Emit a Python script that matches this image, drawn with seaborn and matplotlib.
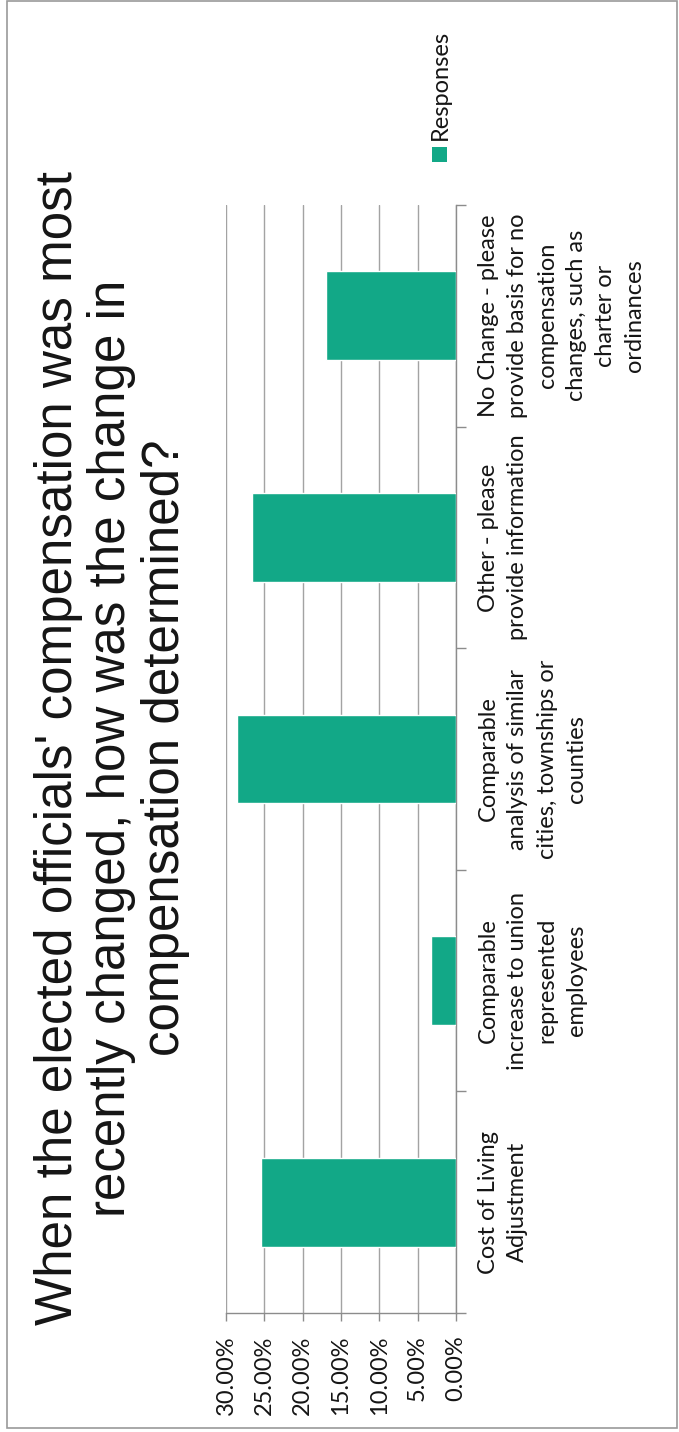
import numpy as np
import pandas as pd
import seaborn as sns
import matplotlib
matplotlib.use("Agg")
import matplotlib.pyplot as plt
from matplotlib.patches import Rectangle

# Survey answers (left-to-right order of the original column chart)
categories = [
    "Cost of Living\nAdjustment",
    "Comparable\nincrease to union\nrepresented\nemployees",
    "Comparable\nanalysis of similar\ncities, townships or\ncounties",
    "Other - please\nprovide information",
    "No Change - please\nprovide basis for no\ncompensation\nchanges, such as\ncharter or\nordinances",
]
responses = [25.5, 3.2, 28.6, 26.6, 16.9]          # percent of respondents
value_ticks = [0, 5, 10, 15, 20, 25, 30]
value_tick_labels = [f"{v:.2f}%" for v in value_ticks]
series_name = "Responses"
title = ("When the elected officials' compensation was most\n"
         "recently changed, how was the change in\n"
         "compensation determined?")

TEAL = "#12a887"
GRID = "#a3a3a3"
AXIS = "#8c8c8c"
TEXT = "#151515"

sns.set_theme(style="white")
plt.rcParams["font.family"] = ["Lato", "DejaVu Sans"]

W, H = 679, 1432
fig = plt.figure(figsize=(W / 100, H / 100), dpi=100)
fig.patch.set_facecolor("white")

# plot area: value axis runs right-to-left, categories bottom-to-top
left, right, top, bottom = 226, 456, 205, 1313
ax = fig.add_axes([left / W, 1 - bottom / H, (right - left) / W, (bottom - top) / H])

df = pd.DataFrame({"category": categories, "share": responses})
order = categories[::-1]  # first answer ends up at the bottom
sns.barplot(data=df, y="category", x="share", order=order, orient="h",
            color=TEAL, saturation=1, width=0.40, ax=ax, zorder=3)

ax.set_xlim(30, 0)
ax.set_xticks(value_ticks)
ax.set_xticklabels(value_tick_labels, rotation=90, fontsize=17, color=TEXT)
ax.xaxis.grid(True, color=GRID, lw=1.0)
ax.yaxis.grid(False)
ax.set_axisbelow(True)
ax.tick_params(axis="x", which="major", bottom=True, length=6, width=1,
               color=AXIS, direction="out", pad=10)

ax.yaxis.tick_right()
ax.set_yticks(range(len(order)))
ax.set_yticklabels(order, rotation=90, ha="left", va="center",
                   multialignment="center", fontsize=17, color=TEXT,
                   linespacing=1.48)
ax.set_yticks(np.arange(-0.5, len(order), 1), minor=True)
ax.tick_params(axis="y", which="major", length=0, pad=16, right=True, left=False)
ax.tick_params(axis="y", which="minor", length=7, width=1, color=AXIS,
               right=True, left=False, direction="out")

ax.set_xlabel("")
ax.set_ylabel("")
for side in ("left", "top"):
    ax.spines[side].set_visible(False)
for side in ("right", "bottom"):
    ax.spines[side].set_visible(True)
    ax.spines[side].set_color(AXIS)
    ax.spines[side].set_linewidth(1)

# title, rotated with the chart
fig.text(112 / W, 1 - 748 / H, title, rotation=90, ha="center", va="center",
         multialignment="center", fontsize=36.8, family="Liberation Sans",
         linespacing=1.13, color=TEXT)

# legend entry, centred in the space beside the title
fig.patches.append(Rectangle((432 / W, 1 - 162 / H), 15 / W, 15 / H,
                             transform=fig.transFigure, facecolor=TEAL,
                             edgecolor="none"))
fig.text(440 / W, 1 - 140 / H, series_name, rotation=90, ha="center",
         va="bottom", fontsize=17, color=TEXT)

# chart border
fig.patches.append(Rectangle((7 / W, 4 / H), 670 / W, 1427 / H,
                             transform=fig.transFigure, facecolor="none",
                             edgecolor="#9a9a9a", lw=1.2))

fig.savefig("out.png", dpi=100, facecolor="white")
